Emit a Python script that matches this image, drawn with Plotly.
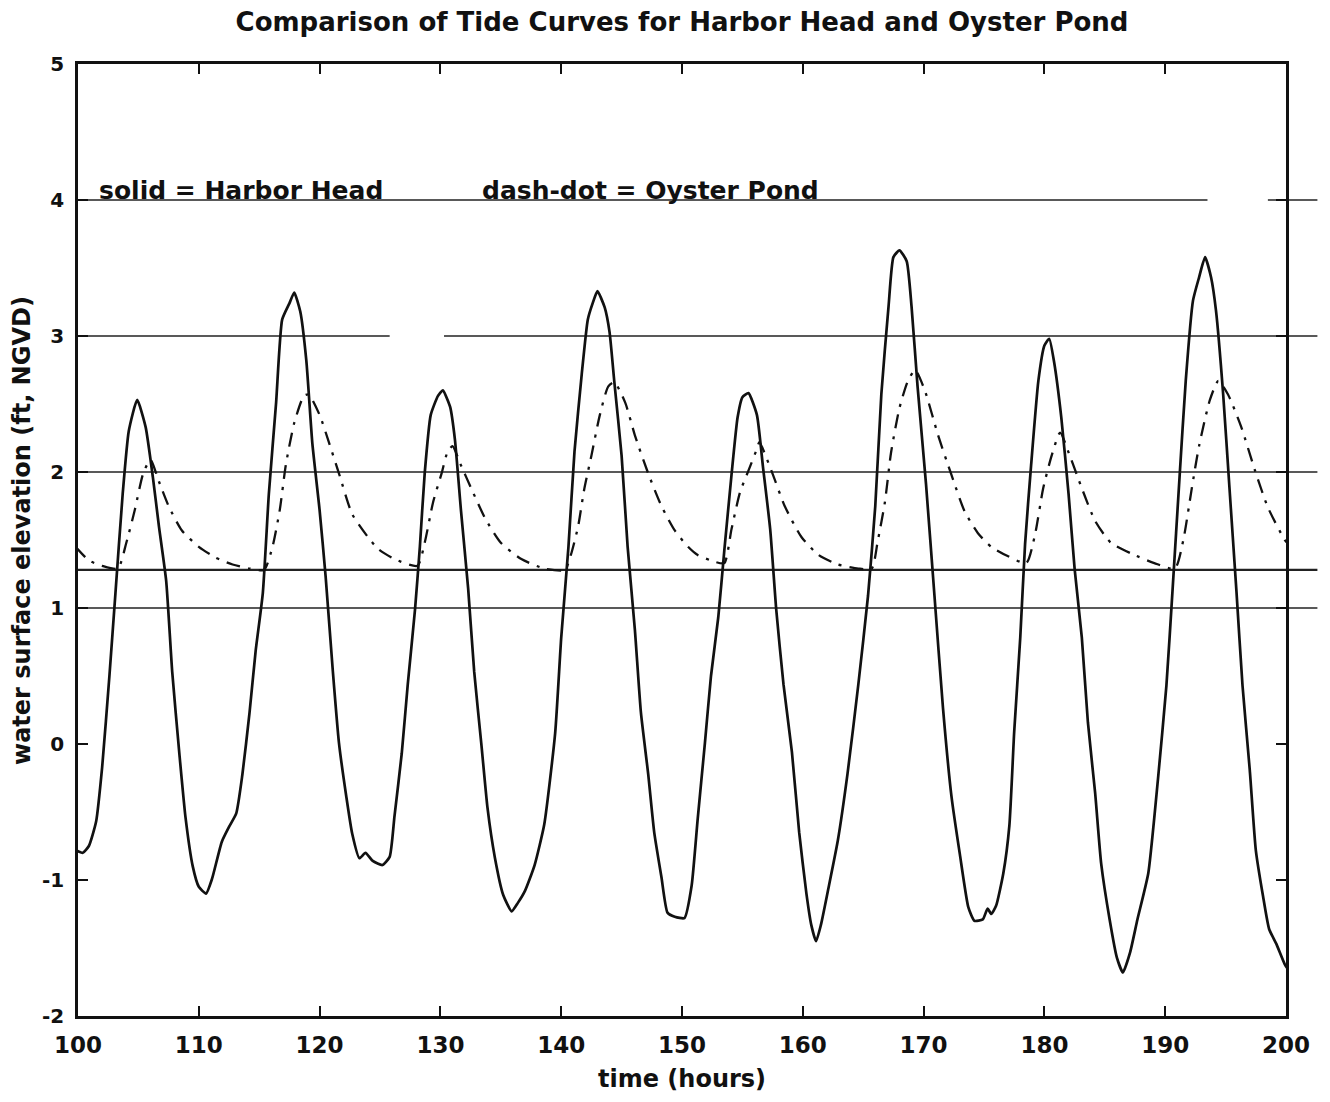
import plotly.graph_objects as go

# ---------------- data ----------------
harbor_t = [99.8, 100.4, 100.9, 101.5, 102.0, 102.6, 103.1, 103.7, 104.2, 104.9,
            105.6, 106.2, 106.7, 107.3, 107.8, 108.4, 108.9, 109.5, 110.0, 110.6,
            111.1, 111.9, 112.5, 113.1, 113.6, 114.2, 114.7, 115.3, 115.8, 116.4,
            116.9, 117.5, 117.9, 118.4, 118.9, 119.4, 120.0, 120.5, 121.1, 121.6,
            122.2, 122.7, 123.3, 123.8, 124.4, 125.2, 125.8, 126.2, 126.8, 127.3,
            127.9, 128.3, 128.7, 129.2, 129.8, 130.2, 130.8, 131.2, 131.7, 132.3,
            132.8, 133.4, 133.9, 134.5, 135.2, 135.9, 136.4, 137.0, 137.8, 138.6,
            139.5, 140.0, 140.6, 141.1, 141.7, 142.2, 142.6, 143.0, 143.6, 144.0,
            144.4, 145.0, 145.5, 146.1, 146.6, 147.2, 147.7, 148.3, 148.8, 149.4,
            150.2, 150.8, 151.3, 151.9, 152.4, 153.0, 153.5, 154.1, 154.6, 155.0,
            155.5, 156.2, 156.7, 157.3, 157.8, 158.4, 159.1, 159.7, 160.3, 160.7,
            161.1, 161.5, 162.1, 162.9, 163.7, 164.6, 165.4, 166.0, 166.5, 167.1,
            167.5, 168.0, 168.6, 169.0, 169.5, 170.2, 170.9, 171.6, 172.3, 173.0,
            173.7, 174.2, 174.9, 175.3, 175.6, 176.0, 176.6, 177.1, 177.5, 178.0,
            178.4, 178.9, 179.5, 180.0, 180.4, 180.8, 181.4, 182.0, 182.5, 183.1,
            183.6, 184.2, 184.7, 185.4, 186.0, 186.5, 187.1, 187.7, 188.6, 189.4,
            190.1, 190.6, 191.2, 191.7, 192.3, 192.8, 193.3, 193.8, 194.2, 194.8,
            195.3, 195.9, 196.4, 197.0, 197.5, 198.1, 198.6, 199.2, 199.9, 200.2]
harbor_h = [-0.78, -0.80, -0.75, -0.57, -0.17, 0.50, 1.11, 1.84, 2.30, 2.53,
            2.33, 1.96, 1.60, 1.20, 0.53, -0.08, -0.54, -0.90, -1.05, -1.10,
            -0.99, -0.72, -0.61, -0.51, -0.23, 0.23, 0.68, 1.11, 1.84, 2.51,
            3.12, 3.24, 3.32, 3.18, 2.82, 2.21, 1.72, 1.23, 0.53, 0.01,
            -0.38, -0.66, -0.84, -0.80, -0.86, -0.89, -0.83, -0.53, -0.07, 0.44,
            0.99, 1.45, 1.99, 2.42, 2.56, 2.60, 2.48, 2.24, 1.72, 1.14,
            0.53, -0.01, -0.47, -0.83, -1.11, -1.23, -1.17, -1.08, -0.89, -0.59,
            0.08, 0.78, 1.45, 2.15, 2.72, 3.12, 3.24, 3.33, 3.21, 3.03,
            2.66, 2.12, 1.45, 0.84, 0.23, -0.22, -0.65, -0.98, -1.24, -1.27,
            -1.28, -1.04, -0.55, 0.01, 0.50, 0.93, 1.42, 1.98, 2.40, 2.55,
            2.58, 2.42, 2.04, 1.58, 0.99, 0.44, -0.06, -0.65, -1.10, -1.33,
            -1.45, -1.33, -1.07, -0.71, -0.22, 0.44, 1.09, 1.75, 2.57, 3.22,
            3.58, 3.63, 3.55, 3.22, 2.63, 1.91, 1.09, 0.27, -0.38, -0.81,
            -1.20, -1.30, -1.29, -1.21, -1.25, -1.19, -0.95, -0.60, 0.09, 0.78,
            1.47, 2.05, 2.67, 2.93, 2.98, 2.81, 2.40, 1.84, 1.29, 0.78,
            0.16, -0.36, -0.88, -1.29, -1.57, -1.68, -1.53, -1.29, -0.95, -0.26,
            0.43, 1.12, 1.98, 2.67, 3.26, 3.43, 3.58, 3.43, 3.19, 2.57,
            1.91, 1.12, 0.43, -0.19, -0.78, -1.12, -1.36, -1.47, -1.62, -1.66]

pond_t = [99.8, 100.9, 102.0, 103.3, 104.0, 104.7, 105.4, 106.0, 106.7, 107.5,
          108.6, 110.0, 111.4, 112.8, 114.2, 115.4, 116.1, 116.7, 117.2, 117.9,
          118.7, 119.1, 120.0, 120.8, 121.6, 122.7, 124.1, 124.9, 126.2, 128.1,
          128.7, 129.4, 130.1, 130.6, 131.0, 131.7, 132.6, 133.7, 135.0, 136.7,
          138.6, 140.3, 140.8, 141.4, 141.9, 142.5, 143.2, 143.9, 144.4, 145.3,
          146.1, 147.2, 148.3, 149.4, 150.5, 151.3, 152.7, 153.5, 154.1, 154.8,
          155.5, 156.2, 156.4, 157.4, 158.5, 159.9, 161.3, 162.9, 164.6, 165.7,
          166.2, 166.8, 167.3, 168.0, 168.7, 169.3, 170.1, 171.2, 172.3, 173.4,
          174.5, 175.6, 177.0, 178.5, 179.2, 179.9, 180.6, 181.3, 182.1, 183.1,
          184.2, 185.5, 187.2, 189.1, 190.8, 191.5, 192.2, 192.8, 193.7, 194.4,
          195.2, 196.3, 197.4, 198.5, 199.9, 200.2]
pond_h = [1.45, 1.35, 1.31, 1.29, 1.48, 1.72, 1.99, 2.09, 1.93, 1.75,
          1.57, 1.45, 1.37, 1.32, 1.29, 1.28, 1.45, 1.72, 2.05, 2.36,
          2.56, 2.57, 2.42, 2.21, 1.99, 1.69, 1.51, 1.43, 1.36, 1.31,
          1.48, 1.78, 1.99, 2.15, 2.19, 2.05, 1.87, 1.66, 1.48, 1.36,
          1.29, 1.28, 1.39, 1.60, 1.87, 2.12, 2.42, 2.63, 2.66, 2.51,
          2.27, 1.99, 1.75, 1.57, 1.45, 1.39, 1.34, 1.33, 1.58, 1.85,
          2.01, 2.17, 2.22, 2.01, 1.75, 1.52, 1.39, 1.32, 1.29, 1.29,
          1.49, 1.78, 2.14, 2.47, 2.67, 2.75, 2.60, 2.27, 1.98, 1.71,
          1.55, 1.45, 1.38, 1.33, 1.53, 1.88, 2.12, 2.29, 2.12, 1.88,
          1.64, 1.48, 1.40, 1.33, 1.29, 1.50, 1.88, 2.19, 2.53, 2.67,
          2.57, 2.33, 2.02, 1.74, 1.50, 1.47]

x_ticks = [100, 110, 120, 130, 140, 150, 160, 170, 180, 190, 200]
y_ticks = [-2, -1, 0, 1, 2, 3, 4, 5]
ref_levels = [4, 3, 2, 1.28, 1]

title_text = "Comparison of Tide Curves for Harbor Head and Oyster Pond"
label_solid = "solid = Harbor Head"
label_dash = "dash-dot = Oyster Pond"
x_title = "time (hours)"
y_title = "water surface elevation (ft, NGVD)"

FONT = "DejaVu Sans"
INK = "#111111"

# horizontal ruled lines of the scanned sheet (segments in plot-width fractions)
rule_segments = {
    4: [(0.0, 0.935), (0.985, 1.026)],
    3: [(0.0, 0.258), (0.303, 1.026)],
    2: [(0.0, 1.026)],
    1.28: [(0.0, 1.026)],
    1: [(0.0, 1.026)],
}
rule_widths = {4: 1.6, 3: 1.4, 2: 1.4, 1.28: 2.4, 1: 1.4}

fig = go.Figure()

fig.add_trace(go.Scatter(x=harbor_t, y=harbor_h, mode="lines",
                         line=dict(color=INK, width=2.7, shape="spline", smoothing=0.5),
                         name="Harbor Head", showlegend=False))
fig.add_trace(go.Scatter(x=pond_t, y=pond_h, mode="lines",
                         line=dict(color=INK, width=2.3, dash="14px,8px,3px,8px",
                                   shape="spline", smoothing=0.6),
                         name="Oyster Pond", showlegend=False))

shapes = []
for lvl in ref_levels:
    for a, b in rule_segments[lvl]:
        shapes.append(dict(type="line", xref="paper", yref="y", x0=a, x1=b,
                           y0=lvl, y1=lvl, line=dict(color="#222222", width=rule_widths[lvl]),
                           layer="below"))

fig.update_layout(
    width=1314, height=1086,
    margin=dict(l=70, r=34, t=56, b=78),
    paper_bgcolor="white", plot_bgcolor="white",
    font=dict(family=FONT, color=INK),
    title=dict(text="<b>" + title_text + "</b>", xref="paper", x=0.5, xanchor="center",
               y=0.9875, yanchor="middle", font=dict(size=26, family=FONT, color=INK)),
    shapes=shapes,
    xaxis=dict(range=[100, 200], tickvals=x_ticks, ticktext=["<b>%d</b>" % v for v in x_ticks],
               ticks="inside", ticklen=10, tickwidth=2, tickcolor=INK,
               showline=True, linewidth=2.8, linecolor=INK, mirror="ticks",
               showgrid=False, zeroline=False, ticklabelstandoff=6,
               tickfont=dict(size=23, family=FONT, color=INK)),
    yaxis=dict(range=[-2, 5], tickvals=y_ticks, ticktext=["<b>%d</b>" % v for v in y_ticks],
               ticks="inside", ticklen=10, tickwidth=2, tickcolor=INK,
               showline=True, linewidth=2.8, linecolor=INK, mirror="ticks",
               showgrid=False, zeroline=False, ticklabelstandoff=7,
               tickfont=dict(size=20, family=FONT, color=INK)),
    annotations=[
        dict(text="<b>" + label_solid + "</b>", x=101.6, y=4.07, xref="x", yref="y",
             xanchor="left", yanchor="middle", showarrow=False,
             font=dict(size=25, family=FONT, color=INK)),
        dict(text="<b>" + label_dash + "</b>", x=133.3, y=4.07, xref="x", yref="y",
             xanchor="left", yanchor="middle", showarrow=False,
             font=dict(size=25, family=FONT, color=INK)),
        dict(text="<b>" + x_title + "</b>", x=0.5, y=0, xref="paper", yref="paper",
             xanchor="center", yanchor="middle", yshift=-63, showarrow=False,
             font=dict(size=24, family=FONT, color=INK)),
        dict(text="<b>" + y_title + "</b>", x=0, y=0.5, xref="paper", yref="paper",
             xanchor="center", yanchor="middle", xshift=-56, yshift=9, textangle=-90,
             showarrow=False, font=dict(size=24, family=FONT, color=INK)),
    ],
)

fig.write_html("out.html")
